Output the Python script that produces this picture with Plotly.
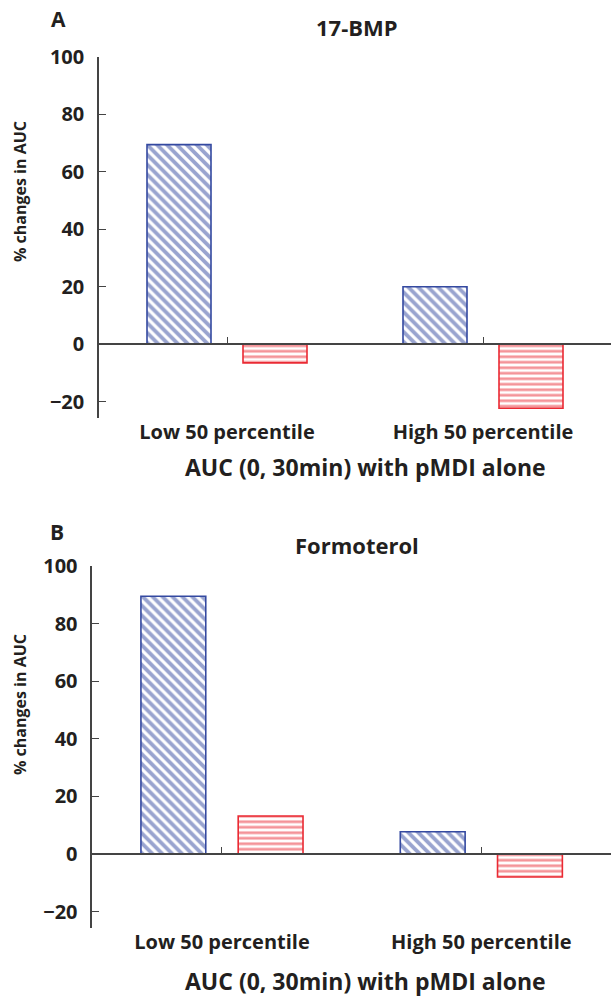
import plotly.graph_objects as go

# ---- data ----
categories = ["Low 50 percentile", "High 50 percentile"]
cat_pos = [0, 1]
bmp_series1 = [69.5, 20.0]      # blue, hatched "\"
bmp_series2 = [-6.5, -22.3]     # red, horizontal lines
form_series1 = [89.5, 7.7]
form_series2 = [13.2, -8.0]
y_ticks = [-20, 0, 20, 40, 60, 80, 100]
panel_titles = ["17-BMP", "Formoterol"]
panel_letters = ["A", "B"]
y_title = "% changes in AUC"
x_title = "AUC (0, 30min) with pMDI alone"

W, H = 611, 998
BLUE = "#3449a0"
RED = "#ea2a33"
TXT = "#231f20"
AX = "#444444"
FONT = "Open Sans"

def px(x):
    return x / W

def py(y):
    return 1 - y / H

YMIN, YMAX = -25.7, 100

fig = go.Figure()

panels = [
    dict(s1=bmp_series1, s2=bmp_series2, xd=[px(99), 1.0], yd=[py(418), py(57)],
         xa="x", ya="y", xlab="x3", title_y=27, letter_xy=(58, 19), ytitle_y=192,
         xt_y=467),
    dict(s1=form_series1, s2=form_series2, xd=[px(92.3), 1.0], yd=[py(928), py(566)],
         xa="x2", ya="y2", xlab="x4", title_y=545, letter_xy=(57, 532), ytitle_y=705,
         xt_y=981),
]

for i, p in enumerate(panels):
    fig.add_trace(go.Bar(
        x=cat_pos, y=p["s1"], xaxis=p["xa"], yaxis=p["ya"],
        marker=dict(color="white", line=dict(color=BLUE, width=1.6),
                    pattern=dict(shape="\\", fgcolor=BLUE, bgcolor="white", size=7, solidity=0.55)),
        showlegend=False, hoverinfo="skip"))
    fig.add_trace(go.Bar(
        x=cat_pos, y=p["s2"], xaxis=p["xa"], yaxis=p["ya"],
        marker=dict(color="white", line=dict(color=RED, width=1.6),
                    pattern=dict(shape="-", fgcolor=RED, bgcolor="white", size=5.5, solidity=0.5)),
        showlegend=False, hoverinfo="skip"))

    d0, d1 = p["yd"]
    zero_pos = d0 + (0 - YMIN) / (YMAX - YMIN) * (d1 - d0)
    xname = "xaxis" if i == 0 else "xaxis2"
    yname = "yaxis" if i == 0 else "yaxis2"
    lname = "xaxis3" if i == 0 else "xaxis4"
    fig.layout[xname] = dict(domain=p["xd"], range=[-0.5, 1.5], anchor="free",
                             position=zero_pos, showline=True, linecolor=AX, linewidth=1.5,
                             ticks="inside", ticklen=6, tickcolor=AX, tickwidth=1.2,
                             tickvals=cat_pos, showticklabels=False, showgrid=False,
                             zeroline=False, fixedrange=True, automargin=False)
    fig.layout[yname] = dict(domain=p["yd"], range=[YMIN, YMAX], anchor=p["xa"],
                             showline=True, linecolor=AX, linewidth=1.5,
                             ticks="inside", ticklen=7, tickcolor=AX, tickwidth=1.2,
                             tickvals=y_ticks,
                             ticktext=[("\u2212" + str(-v)) if v < 0 else str(v) for v in y_ticks],
                             ticklabelstandoff=9,
                             tickfont=dict(family=FONT, size=20, color=TXT, weight="bold"),
                             showgrid=False, zeroline=False, fixedrange=True, automargin=False)
    # category label axis (overlay at the bottom of the panel)
    fig.layout[lname] = dict(domain=p["xd"], range=[-0.5, 1.5], overlaying=p["xa"],
                             anchor="free", position=d0, side="bottom", showline=False,
                             ticks="", tickvals=cat_pos, ticktext=categories,
                             ticklabelstandoff=0,
                             tickfont=dict(family=FONT, size=20, color=TXT, weight="bold"),
                             showgrid=False, zeroline=False, fixedrange=True, automargin=False)
    fig.add_trace(go.Scatter(x=[None], y=[None], xaxis=p["xlab"], yaxis=p["ya"],
                             showlegend=False, hoverinfo="skip"))

    fig.add_annotation(text=panel_titles[i], x=px(357), y=py(p["title_y"]), xref="paper", yref="paper",
                       showarrow=False, xanchor="center", yanchor="middle",
                       font=dict(family=FONT, size=22, color=TXT, weight="bold"))
    fig.add_annotation(text=panel_letters[i], x=px(p["letter_xy"][0]), y=py(p["letter_xy"][1]),
                       xref="paper", yref="paper", showarrow=False, xanchor="center", yanchor="middle",
                       font=dict(family=FONT, size=21, color=TXT, weight="bold"))
    fig.add_annotation(text=y_title, x=px(20), y=py(p["ytitle_y"]), xref="paper", yref="paper",
                       showarrow=False, xanchor="center", yanchor="middle", textangle=-90,
                       font=dict(family=FONT, size=16, color=TXT, weight="bold"))
    fig.add_annotation(text=x_title, x=px(365), y=py(p["xt_y"]), xref="paper", yref="paper",
                       showarrow=False, xanchor="center", yanchor="middle",
                       font=dict(family=FONT, size=23, color=TXT, weight="bold"))

fig.update_layout(width=W, height=H, margin=dict(l=0, r=0, t=0, b=0, pad=0, autoexpand=False),
                  paper_bgcolor="white", plot_bgcolor="white",
                  barmode="group", bargap=0.25, bargroupgap=1/3,
                  showlegend=False)

fig.write_html("out.html")
